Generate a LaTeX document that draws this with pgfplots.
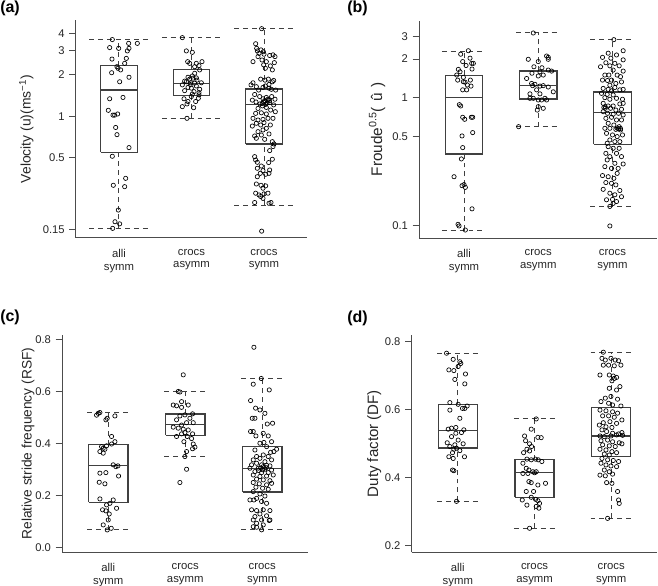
\documentclass[border=0pt]{standalone}
\usepackage{fontspec}
\setmainfont{Liberation Sans}
\usepackage{pgfplots}
\usepackage{pgfplotstable}
\pgfplotsset{compat=1.18}

% ---------------- panel (a): velocity, x = pixel position ----------------
\pgfplotstableread{
xz v
338 3.60
387 3.38
413 3.38
330 3.15
357 3.11
388 3.11
383 2.98
337 2.60
380 2.63
375 2.42
352 2.29
355 2.23
363 2.17
336 2.07
388 1.92
360 1.78
330 1.34
370 1.37
326 1.105
354 1.04
340 1.02
345 1.02
348 0.83
352 0.736
388 0.593
338 0.513
378 0.355
341 0.316
375 0.309
356 0.209
346 0.172
360 0.166
339 0.154
}\aAlli
\pgfplotstableread{
xz v
548 3.72
560 2.98
578 2.91
564 2.49
590 2.42
607 2.49
570 2.42
598 2.33
585 2.29
600 2.17
585 2.05
578 1.96
565 1.92
570 1.86
580 1.89
592 1.83
560 1.78
573 1.75
585 1.74
548 1.69
565 1.62
575 1.60
590 1.66
600 1.57
555 1.535
583 1.51
598 1.485
553 1.34
598 1.43
575 1.39
565 1.28
588 1.28
548 1.175
582 1.155
562 1.23
596 1.35
562 0.967
572 1.70
590 1.90
605 1.75
555 1.80
578 1.45
}\aAsym
\pgfplotstableread{
xz v
786 4.32
768 3.36
771 3.11
784 3.03
773 2.98
791 2.94
778 2.86
793 2.82
820 2.79
810 2.76
826 2.71
760 2.49
775 2.71
787 2.56
800 2.49
824 2.45
812 2.32
797 2.23
818 2.17
792 2.36
783 1.86
796 1.83
806 1.86
818 1.78
754 1.69
770 1.64
790 1.62
797 1.66
808 1.60
815 1.57
828 1.55
777 1.55
765 1.44
780 1.39
790 1.34
800 1.37
806 1.31
816 1.39
826 1.33
758 1.31
769 1.27
781 1.23
795 1.28
810 1.26
822 1.21
775 1.14
788 1.19
800 1.16
813 1.11
827 1.08
768 1.05
785 1.06
800 1.04
760 0.967
775 0.94
790 0.95
805 0.967
820 0.967
770 0.89
783 0.865
793 0.90
812 0.865
758 0.85
800 0.818
775 0.774
790 0.796
765 0.72
785 0.732
808 0.745
770 0.693
795 0.681
818 0.655
823 0.63
820 0.603
810 0.564
765 0.51
768 0.482
773 0.464
818 0.488
807 0.462
785 0.436
773 0.42
790 0.404
810 0.408
782 0.386
798 0.38
773 0.365
808 0.386
770 0.323
784 0.316
798 0.313
790 0.301
768 0.277
778 0.269
793 0.274
805 0.277
783 0.262
790 0.254
765 0.237
808 0.234
814 0.237
786 0.147
795 1.30
802 1.25
798 1.22
805 1.33
792 1.27
810 1.30
788 1.24
760 1.75
808 1.70
822 1.82
}\aSym
% ---------------- panel (b): Froude ----------------
\pgfplotstableread{
xz v
415 2.32
392 2.18
420 2.03
398 1.91
425 1.85
408 1.78
430 1.85
385 1.66
390 1.59
426 1.67
380 1.50
400 1.44
383 1.37
405 1.32
421 1.37
398 1.15
423 1.23
410 1.15
412 1.255
400 1.33
392 0.861
388 0.882
398 0.703
404 0.678
424 0.703
428 0.703
396 0.503
428 0.534
398 0.408
394 0.333
372 0.242
396 0.206
406 0.200
402 0.210
426 0.136
384 0.103
387 0.100
406 0.093
}\bAlli
\pgfplotstableread{
xz v
610 3.19
595 1.99
625 1.91
650 2.11
655 2.06
655 1.99
612 1.74
636 1.71
655 1.64
665 1.61
590 1.41
606 1.55
630 1.59
640 1.50
625 1.475
605 1.29
615 1.27
608 1.24
640 1.24
655 1.21
630 1.23
620 1.15
600 1.07
630 1.07
670 1.11
645 0.988
610 0.988
625 0.959
635 0.959
650 0.959
600 0.988
625 0.851
640 0.826
622 0.80
566 0.594
}\bAsym
\pgfplotstableread{
xz v
852 2.83
880 2.32
835 2.22
818 2.06
860 2.15
843 2.03
880 1.97
828 1.87
855 1.85
868 1.77
840 1.77
812 1.74
880 1.61
850 1.64
862 1.50
837 1.50
825 1.50
872 1.457
845 1.37
833 1.36
818 1.37
858 1.29
875 1.325
840 1.25
820 1.18
855 1.20
835 1.16
870 1.15
880 1.16
845 1.13
815 1.08
832 1.06
850 1.05
825 1.00
840 0.971
860 0.988
878 0.971
820 0.903
835 0.861
850 0.861
870 0.893
880 0.903
826 0.826
842 0.826
858 0.80
875 0.811
820 0.778
833 0.755
850 0.742
866 0.755
880 0.733
828 0.690
845 0.703
860 0.670
875 0.670
835 0.631
852 0.612
868 0.594
825 0.577
840 0.577
858 0.566
872 0.560
830 0.527
848 0.512
862 0.497
878 0.512
840 0.468
855 0.454
870 0.454
832 0.441
835 0.415
850 0.403
868 0.403
828 0.368
860 0.368
840 0.347
875 0.347
832 0.327
855 0.308
880 0.304
825 0.290
845 0.281
865 0.281
818 0.247
835 0.242
852 0.235
862 0.257
845 0.215
828 0.218
858 0.209
820 0.193
870 0.189
840 0.180
855 0.175
875 0.169
848 0.161
830 0.160
860 0.155
850 0.150
840 0.142
840 0.100
866 0.57
872 0.575
862 0.58
822 0.84
826 0.85
}\bSym
% ---------------- panel (c): RSF ----------------
\pgfplotstableread{
xz v
290 0.508
295 0.515
300 0.518
345 0.505
318 0.49
322 0.496
335 0.426
345 0.406
335 0.397
320 0.39
305 0.387
310 0.381
315 0.377
300 0.368
310 0.362
340 0.317
354 0.313
348 0.31
318 0.287
300 0.285
356 0.274
298 0.25
315 0.244
300 0.186
340 0.182
330 0.169
320 0.163
350 0.15
308 0.144
318 0.14
328 0.128
325 0.105
310 0.086
334 0.073
322 0.0667
}\cAlli
\pgfplotstableread{
xz v
550 0.663
535 0.599
540 0.597
545 0.56
520 0.547
530 0.544
565 0.547
545 0.538
578 0.513
555 0.509
540 0.505
570 0.496
530 0.49
560 0.479
545 0.47
580 0.479
520 0.462
535 0.458
550 0.454
565 0.451
555 0.441
578 0.436
545 0.436
530 0.426
562 0.426
575 0.418
552 0.406
580 0.397
585 0.385
578 0.379
560 0.368
555 0.349
560 0.30
540 0.249
}\cAsym
\pgfplotstableread{
xz v
762 0.769
784 0.649
760 0.627
808 0.605
752 0.564
767 0.535
780 0.528
795 0.515
757 0.496
765 0.496
802 0.474
818 0.477
760 0.445
752 0.445
790 0.438
805 0.428
768 0.428
780 0.40
792 0.403
815 0.406
800 0.387
830 0.377
765 0.374
812 0.365
822 0.368
790 0.355
770 0.349
805 0.349
780 0.342
760 0.336
815 0.336
795 0.329
770 0.323
755 0.317
785 0.317
810 0.313
750 0.304
775 0.304
795 0.30
815 0.297
765 0.291
785 0.287
805 0.287
760 0.278
780 0.272
800 0.274
820 0.278
770 0.262
790 0.259
810 0.256
760 0.249
778 0.244
800 0.24
815 0.246
768 0.231
788 0.227
805 0.223
760 0.214
780 0.205
795 0.197
770 0.188
750 0.182
762 0.182
785 0.176
800 0.169
755 0.144
770 0.141
790 0.144
810 0.141
780 0.128
765 0.118
800 0.121
760 0.105
785 0.105
808 0.103
770 0.092
790 0.086
760 0.079
810 0.105
785 0.067
770 0.077
782 0.305
790 0.31
798 0.306
776 0.295
800 0.315
788 0.298
}\cSym
% ---------------- panel (d): duty factor ----------------
\pgfplotstableread{
xz v
350 0.766
370 0.748
390 0.741
393 0.736
385 0.727
357 0.717
372 0.715
407 0.705
375 0.689
405 0.676
360 0.621
385 0.616
412 0.611
398 0.604
360 0.599
405 0.604
390 0.575
378 0.548
365 0.546
355 0.543
402 0.541
395 0.533
378 0.531
365 0.521
385 0.511
352 0.503
400 0.50
375 0.497
360 0.492
380 0.487
372 0.484
368 0.474
390 0.48
357 0.462
404 0.462
370 0.457
368 0.423
372 0.421
380 0.331
}\dAlli
\pgfplotstableread{
xz v
620 0.573
605 0.543
585 0.523
588 0.509
625 0.519
635 0.518
600 0.50
606 0.492
582 0.474
592 0.484
600 0.479
592 0.455
605 0.453
618 0.455
626 0.453
637 0.448
580 0.443
590 0.428
598 0.423
610 0.418
620 0.418
595 0.413
580 0.413
615 0.415
598 0.389
605 0.386
625 0.379
648 0.384
590 0.36
612 0.36
578 0.335
605 0.343
618 0.337
625 0.333
630 0.325
592 0.32
620 0.316
628 0.311
600 0.252
}\dAsym
\pgfplotstableread{
xz v
822 0.769
818 0.751
828 0.746
845 0.751
858 0.746
868 0.744
822 0.731
838 0.731
855 0.729
875 0.731
812 0.702
840 0.702
852 0.699
862 0.695
848 0.685
855 0.692
872 0.668
840 0.663
862 0.658
828 0.634
845 0.639
865 0.631
815 0.624
838 0.619
850 0.614
875 0.611
812 0.599
830 0.597
850 0.594
865 0.59
878 0.57
820 0.582
838 0.582
855 0.578
822 0.562
842 0.565
862 0.56
810 0.555
830 0.55
848 0.548
818 0.541
832 0.536
850 0.531
868 0.529
878 0.533
812 0.523
825 0.521
845 0.523
862 0.526
880 0.525
815 0.509
835 0.511
850 0.506
870 0.503
820 0.497
840 0.494
858 0.492
878 0.50
812 0.484
830 0.482
848 0.477
862 0.474
825 0.47
840 0.467
818 0.457
835 0.453
852 0.451
868 0.448
815 0.443
830 0.438
845 0.435
862 0.433
825 0.423
840 0.418
812 0.408
828 0.406
850 0.411
832 0.386
848 0.384
865 0.36
868 0.335
870 0.325
835 0.281
}\dSym

\pgfplotsset{
  rplot/.style={
    scale only axis, anchor=south west, clip=false,
    axis x line*=bottom, axis y line*=left,
    axis line style={black!70, line width=0.75pt},
    xtick={1,2,3},
    xticklabels={{alli\\symm},{crocs\\asymm},{crocs\\symm}},
    xticklabel style={align=center, font=\fontsize{8.5}{9.4}\selectfont, text=black!85},
    x tick style={draw=none},
    y tick style={black!70, line width=0.75pt},
    tick align=outside, major tick length=5pt,
    yticklabel style={font=\fontsize{8.4}{10}\selectfont, text=black!85},
    ylabel style={anchor=base, text=black!85},
    yminorticks=false,
  },
  pts/.style={only marks, mark=o, mark size=1.6pt, mark options={line width=0.5pt, draw=black}},
  boxl/.style={black!75, line width=0.95pt, mark=none},
  whisk/.style={black!75, line width=0.75pt, dash pattern=on 3.7pt off 3pt, mark=none},
}

% #1 x, #2 box half width, #3 staple half width, #4 lower whisker, #5 Q1, #6 median, #7 Q3, #8 upper whisker
\newcommand{\rbox}[8]{%
  \pgfmathsetmacro{\rbBL}{#1-#2}\pgfmathsetmacro{\rbBR}{#1+#2}%
  \pgfmathsetmacro{\rbCL}{#1-#3}\pgfmathsetmacro{\rbCR}{#1+#3}%
  \addplot[whisk] coordinates {(#1,#4) (#1,#5)};
  \addplot[whisk] coordinates {(#1,#7) (#1,#8)};
  \addplot[whisk] coordinates {(\rbCL,#4) (\rbCR,#4)};
  \addplot[whisk] coordinates {(\rbCL,#8) (\rbCR,#8)};
  \addplot[boxl] coordinates {(\rbBL,#5) (\rbBR,#5) (\rbBR,#7) (\rbBL,#7) (\rbBL,#5)};
  \addplot[boxl] coordinates {(\rbBL,#6) (\rbBR,#6)};
}

\begin{document}
\begin{tikzpicture}
\path[use as bounding box] (0,0) rectangle (493.5pt,439.5pt);

% (a)
\begin{axis}[rplot, at={(57pt,261pt)}, width=173.25pt, height=163.5pt,
  xmin=0.407, xmax=3.593, ymode=log, ymin=0.1311, ymax=4.993,
  ytick={0.15,0.5,1,2,3,4}, yticklabels={0.15,0.5,1,2,3,4},
  ylabel={Velocity (u)(ms\textsuperscript{−1})},
  ylabel style={at={(axis description cs:-0.196,0.5)}, font=\fontsize{10.4}{12}\selectfont}]
\rbox{1}{0.253}{0.41}{0.154}{0.548}{1.55}{2.33}{3.6}
\rbox{2}{0.253}{0.41}{0.967}{1.42}{1.73}{2.19}{3.70}
\rbox{3}{0.253}{0.41}{0.226}{0.63}{1.22}{1.58}{4.32}
\addplot[pts] table[x expr={1+(\thisrowno{0}-358)/217.5}, y index=1] {\aAlli};
\addplot[pts] table[x expr={1+(\thisrowno{0}-358)/217.5}, y index=1] {\aAsym};
\addplot[pts] table[x expr={1+(\thisrowno{0}-358)/217.5}, y index=1] {\aSym};
\end{axis}

% (b)
\begin{axis}[rplot, at={(314.5pt,260.8pt)}, width=178.3pt, height=163.2pt,
  xmin=0.398, xmax=3.6, ymode=log, ymin=0.0802, ymax=3.98,
  ytick={0.1,0.5,1,2,3}, yticklabels={0.1,0.5,1,2,3},
  ylabel={Froude\textsuperscript{0.5}(\hspace{0.35em}\^{u}\hspace{0.35em})},
  ylabel style={at={(axis description cs:-0.156,0.5)}, font=\fontsize{11.5}{13}\selectfont}]
\rbox{1}{0.253}{0.3}{0.093}{0.364}{1.0}{1.49}{2.30}
\rbox{2}{0.253}{0.3}{0.594}{0.976}{1.24}{1.61}{3.19}
\rbox{3}{0.253}{0.3}{0.1415}{0.433}{0.764}{1.107}{2.83}
\addplot[pts] table[x expr={1+(\thisrowno{0}-402)/223}, y index=1] {\bAlli};
\addplot[pts] table[x expr={1+(\thisrowno{0}-402)/223}, y index=1] {\bAsym};
\addplot[pts] table[x expr={1+(\thisrowno{0}-402)/223}, y index=1] {\bSym};
\end{axis}

% (c)
\begin{axis}[rplot, at={(46.7pt,25.3pt)}, width=184.3pt, height=163pt,
  xmin=0.403, xmax=3.594, ymin=-0.0192, ymax=0.8165,
  ytick={0,0.2,0.4,0.6,0.8}, yticklabels={0.0,0.2,0.4,0.6,0.8},
  ylabel={Relative stride frequency (RSF)},
  ylabel style={at={(axis description cs:-0.125,0.5)}, font=\fontsize{10.3}{12}\selectfont}]
\rbox{1}{0.255}{0.27}{0.0667}{0.173}{0.315}{0.395}{0.517}
\rbox{2}{0.255}{0.27}{0.35}{0.431}{0.473}{0.512}{0.599}
\rbox{3}{0.255}{0.27}{0.0667}{0.213}{0.303}{0.387}{0.649}
\addplot[pts] table[x expr={1+(\thisrowno{0}-325)/231}, y index=1] {\cAlli};
\addplot[pts] table[x expr={1+(\thisrowno{0}-325)/231}, y index=1] {\cAsym};
\addplot[pts] table[x expr={1+(\thisrowno{0}-325)/231}, y index=1] {\cSym};
\end{axis}

% (d)
\begin{axis}[rplot, at={(308.8pt,25.3pt)}, width=184pt, height=163pt,
  xmin=0.399, xmax=3.597, ymin=0.1815, ymax=0.8197,
  ytick={0.2,0.4,0.6,0.8}, yticklabels={0.2,0.4,0.6,0.8},
  ylabel={Duty factor (DF)},
  ylabel style={at={(axis description cs:-0.137,0.5)}, font=\fontsize{11.3}{13}\selectfont}]
\rbox{1}{0.255}{0.27}{0.331}{0.488}{0.538}{0.616}{0.766}
\rbox{2}{0.255}{0.27}{0.252}{0.343}{0.415}{0.453}{0.573}
\rbox{3}{0.255}{0.27}{0.281}{0.462}{0.523}{0.607}{0.769}
\addplot[pts] table[x expr={1+(\thisrowno{0}-384)/231}, y index=1] {\dAlli};
\addplot[pts] table[x expr={1+(\thisrowno{0}-384)/231}, y index=1] {\dAsym};
\addplot[pts] table[x expr={1+(\thisrowno{0}-384)/231}, y index=1] {\dSym};
\end{axis}

\node[anchor=west, inner sep=0, font=\fontsize{12}{14}\selectfont\bfseries] at (0pt,433.1pt) {(a)};
\node[anchor=west, inner sep=0, font=\fontsize{12}{14}\selectfont\bfseries] at (260.3pt,433.1pt) {(b)};
\node[anchor=west, inner sep=0, font=\fontsize{12}{14}\selectfont\bfseries] at (0pt,201.5pt) {(c)};
\node[anchor=west, inner sep=0, font=\fontsize{12}{14}\selectfont\bfseries] at (260.3pt,200.5pt) {(d)};
\end{tikzpicture}
\end{document}
